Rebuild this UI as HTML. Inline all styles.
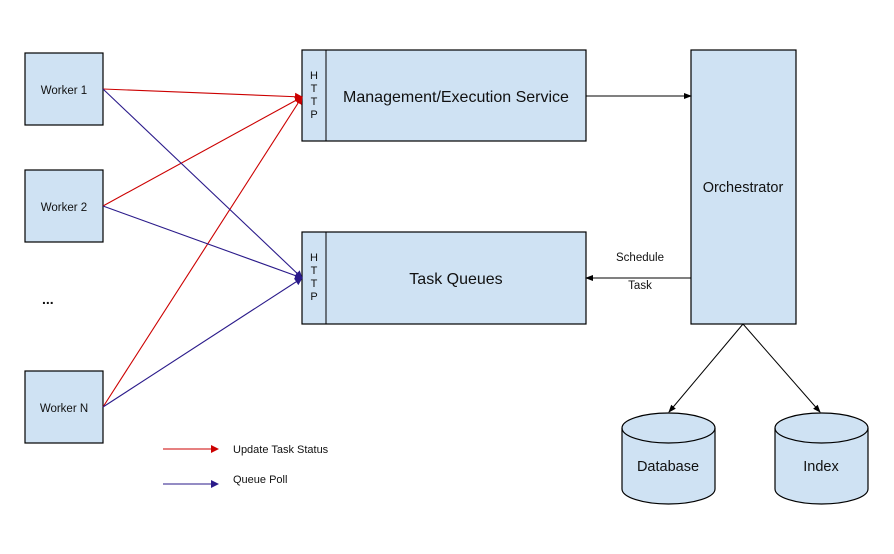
<!DOCTYPE html>
<html><head><style>body{margin:0;background:#fff}svg{display:block}</style></head><body>
<svg width="894" height="554" viewBox="0 0 894 554" xmlns="http://www.w3.org/2000/svg" font-family="Liberation Sans, sans-serif">
<defs>
<marker id="r" markerWidth="8" markerHeight="8" refX="7" refY="4" orient="auto" markerUnits="userSpaceOnUse"><path d="M0,0L8,4L0,8z" fill="#c00"/></marker>
<marker id="b" markerWidth="8" markerHeight="8" refX="7" refY="4" orient="auto" markerUnits="userSpaceOnUse"><path d="M0,0L8,4L0,8z" fill="#2a1a8a"/></marker>
<marker id="k" markerWidth="8" markerHeight="8" refX="7" refY="4" orient="auto" markerUnits="userSpaceOnUse"><path d="M0,1L8,4L0,7z" fill="#000"/></marker>
</defs>
<g fill="#cfe2f3" stroke="#000" stroke-width="1.2">
<rect x="25" y="53" width="78" height="72"/>
<rect x="25" y="170" width="78" height="72"/>
<rect x="25" y="371" width="78" height="72"/>
<rect x="302" y="50" width="284" height="91"/>
<rect x="302" y="232" width="284" height="92"/>
<rect x="691" y="50" width="105" height="274"/>
<path d="M622,428 A46.5,15 0 0 1 715,428 V489 A46.5,15 0 0 1 622,489 Z"/>
<path d="M622,428 A46.5,15 0 0 0 715,428" fill="none"/>
<path d="M775,428 A46.5,15 0 0 1 868,428 V489 A46.5,15 0 0 1 775,489 Z"/>
<path d="M775,428 A46.5,15 0 0 0 868,428" fill="none"/>
</g>
<line x1="326" y1="50" x2="326" y2="141" stroke="#000"/>
<line x1="326" y1="232" x2="326" y2="324" stroke="#000"/>
<g stroke="#c00" stroke-width="1.1" marker-end="url(#r)">
<line x1="103" y1="89" x2="302" y2="97"/>
<line x1="103" y1="206" x2="302" y2="97"/>
<line x1="103" y1="407" x2="302" y2="97"/>
<line x1="163" y1="449" x2="218" y2="449"/>
</g>
<g stroke="#2a1a8a" stroke-width="1.1" marker-end="url(#b)">
<line x1="103" y1="89" x2="302" y2="278"/>
<line x1="103" y1="206" x2="302" y2="278"/>
<line x1="103" y1="407" x2="302" y2="278"/>
<line x1="163" y1="484" x2="218" y2="484"/>
</g>
<g stroke="#000" stroke-width="1" marker-end="url(#k)">
<line x1="586" y1="96" x2="691" y2="96"/>
<line x1="691" y1="278" x2="586" y2="278"/>
<line x1="743" y1="324" x2="669" y2="412"/>
<line x1="743" y1="324" x2="820" y2="412"/>
</g>
<g fill="#111" font-size="11.5">
<text x="64" y="94" text-anchor="middle">Worker 1</text>
<text x="64" y="211" text-anchor="middle">Worker 2</text>
<text x="64" y="412" text-anchor="middle">Worker N</text>
<text x="42" y="304" font-size="14" font-weight="bold">...</text>
<text x="640" y="261" text-anchor="middle">Schedule</text>
<text x="640" y="289" text-anchor="middle">Task</text>
<text x="233" y="453" font-size="11">Update Task Status</text>
<text x="233" y="483" font-size="11">Queue Poll</text>
</g>
<g fill="#111" font-size="11" text-anchor="middle">
<text x="314" y="79">H</text><text x="314" y="92">T</text><text x="314" y="105">T</text><text x="314" y="118">P</text>
<text x="314" y="261">H</text><text x="314" y="274">T</text><text x="314" y="287">T</text><text x="314" y="300">P</text>
</g>
<g fill="#111" font-size="16" text-anchor="middle">
<text x="456" y="102">Management/Execution Service</text>
<text x="456" y="284">Task Queues</text>
<text x="743" y="192" font-size="14.5">Orchestrator</text>
<text x="668" y="471" font-size="14.5">Database</text>
<text x="821" y="471" font-size="14.5">Index</text>
</g>
</svg>
</body></html>
